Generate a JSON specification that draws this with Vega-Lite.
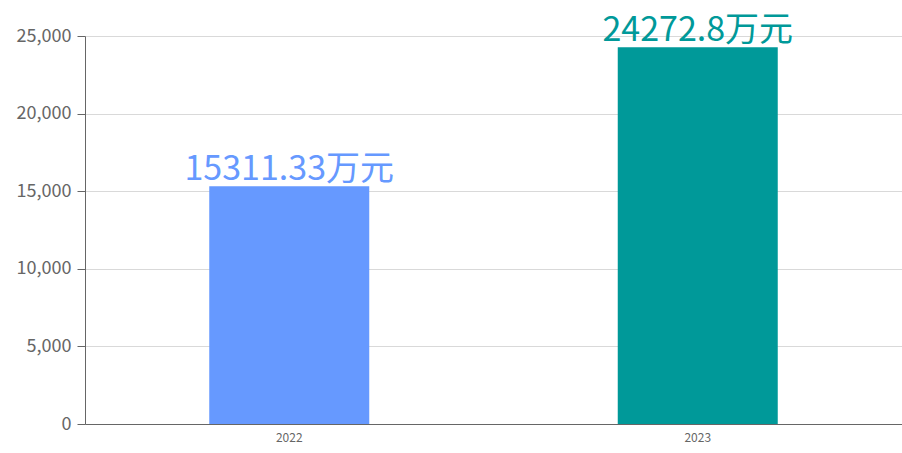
{
  "$schema": "https://vega.github.io/schema/vega-lite/v6.json",
  "width": 902,
  "height": 453,
  "autosize": {"type": "fit", "contains": "padding"},
  "padding": {"left": 16, "top": 16, "right": 0, "bottom": 10},
  "config": {
    "view": {"stroke": null},
    "font": "Noto Sans CJK SC",
    "axis": {"labelFont": "Noto Sans CJK SC", "labelColor": "#666666", "labelFontSize": 18, "gridColor": "#d9d9d9", "domainColor": "#666666", "tickColor": "#666666"}
  },
  "data": {"values": [
    {"year": "2022", "value": 15311.33, "label": "15311.33万元"},
    {"year": "2023", "value": 24272.8, "label": "24272.8万元"}
  ]},
  "encoding": {
    "x": {"field": "year", "type": "nominal", "axis": {"title": null, "labelAngle": 0, "ticks": false, "labelPadding": 8, "labelFontSize": 12}, "scale": {"paddingInner": 0.2, "paddingOuter": 0.1}},
    "y": {"field": "value", "type": "quantitative", "scale": {"domain": [0, 25000]}, "axis": {"title": null, "values": [0, 5000, 10000, 15000, 20000, 25000], "format": ",.0f", "tickSize": 8, "labelPadding": 6, "labelOverlap": false}},
    "color": {"field": "year", "type": "nominal", "scale": {"range": ["#6699ff", "#009999"]}, "legend": null}
  },
  "layer": [
    {"mark": {"type": "bar", "size": 160}},
    {"mark": {"type": "text", "baseline": "alphabetic", "dy": -6, "fontSize": 34}, "encoding": {"text": {"field": "label"}}}
  ]
}
